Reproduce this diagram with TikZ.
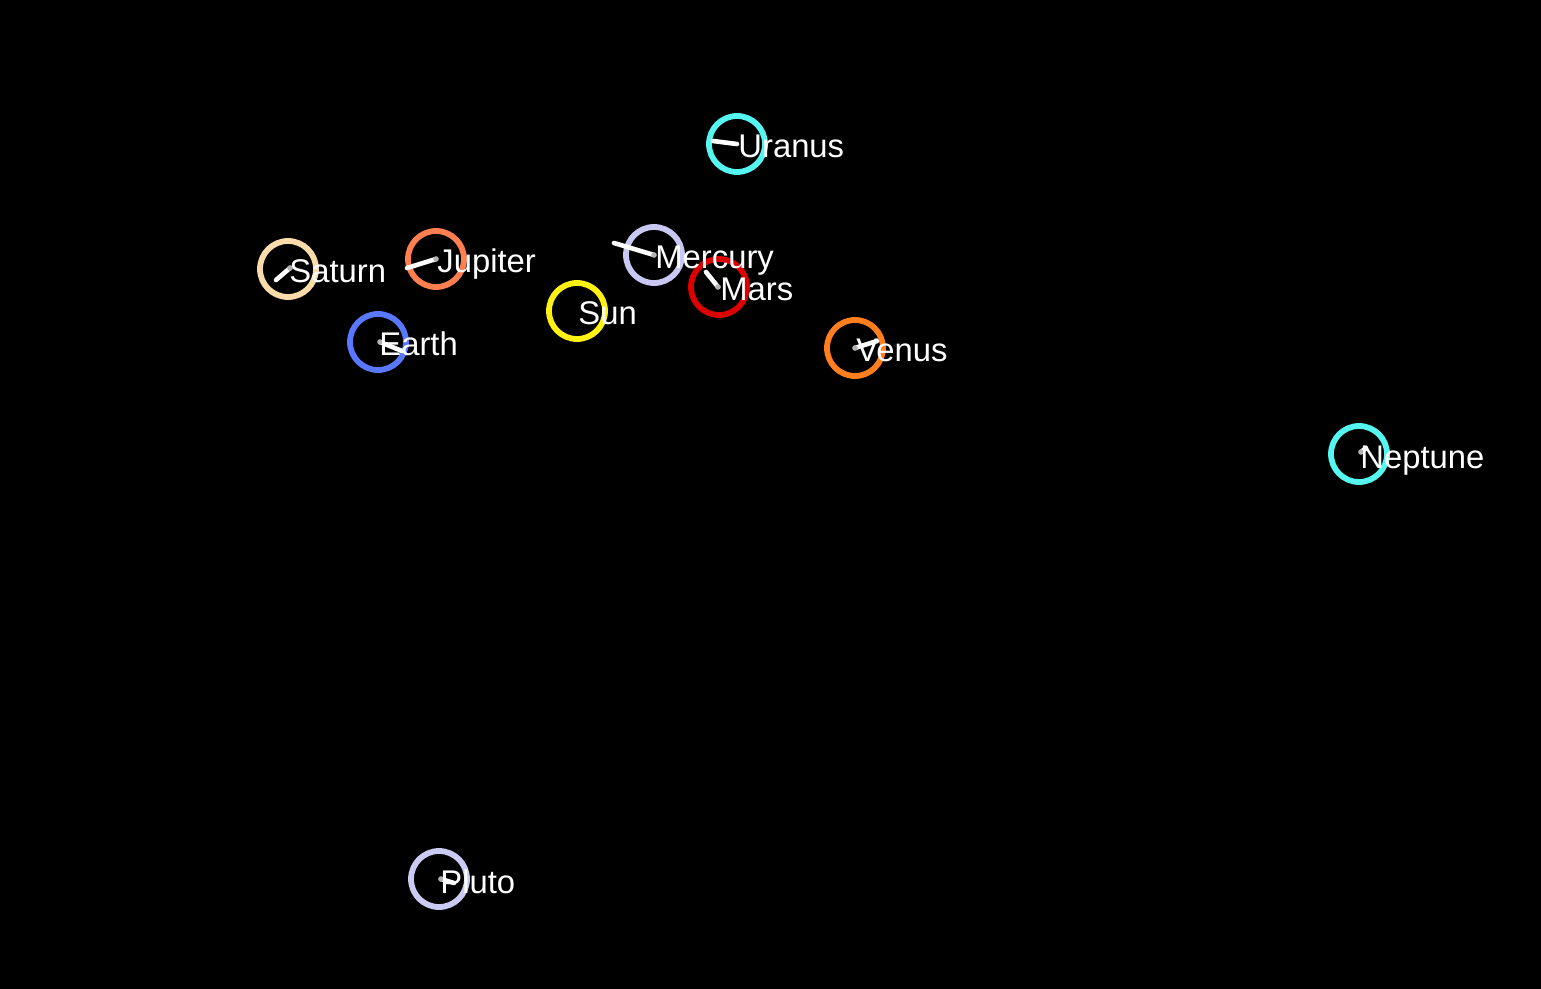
\documentclass[tikz,border=0pt]{standalone}
\usepackage{fontspec}
\setmainfont{Liberation Sans}
\usetikzlibrary{positioning}

\definecolor{sunc}{HTML}{FFF212}
\definecolor{mercuryc}{HTML}{C8C8F2}
\definecolor{venusc}{HTML}{FF7F1E}
\definecolor{earthc}{HTML}{5A78FF}
\definecolor{marsc}{HTML}{DC0000}
\definecolor{jupiterc}{HTML}{FF7F50}
\definecolor{saturnc}{HTML}{FADCAA}
\definecolor{uranusc}{HTML}{55F5F0}
\definecolor{neptunec}{HTML}{55F5F0}
\definecolor{plutoc}{HTML}{CACAF2}

\begin{document}
\begin{tikzpicture}[
  x=0.5pt, y=-0.5pt,
  planet/.style={circle, draw, line width=2.9pt, minimum size=28pt, inner sep=0pt},
  lbl/.style   ={anchor=base west, inner sep=0pt, text=white,
                 font=\fontsize{16.4}{18}\selectfont},
  vel/.style   ={white, line width=2.3pt, line cap=round},
  posdot/.style={circle, fill=gray!60, inner sep=0pt, minimum size=2.8pt}
]
\fill[black] (0,0) rectangle (1541,989);

% bodies
\node[planet, draw=sunc]     (sun)     at (577,311) {};
\node[planet, draw=mercuryc] (mercury) at (654,255) {};
\node[planet, draw=venusc]   (venus)   at (855,348) {};
\node[planet, draw=earthc]   (earth)   at (378,342) {};
\node[planet, draw=marsc]    (mars)    at (719,287) {};
\node[planet, draw=jupiterc] (jupiter) at (436,259) {};
\node[planet, draw=saturnc]  (saturn)  at (288,269) {};
\node[planet, draw=uranusc]  (uranus)  at (737,144) {};
\node[planet, draw=neptunec] (neptune) at (1359,454) {};
\node[planet, draw=plutoc]   (pluto)   at (439,879) {};

% velocity ends
\coordinate (mercury-v) at (614,243);
\coordinate (venus-v)   at (877,341);
\coordinate (earth-v)   at (402,351);
\coordinate (mars-v)    at (706,272);
\coordinate (jupiter-v) at (407,268);
\coordinate (saturn-v)  at (276,280);
\coordinate (uranus-v)  at (713,141);
\coordinate (neptune-v) at (1366,448);
\coordinate (pluto-v)   at (454,883);

\draw[vel] (mercury.center) -- (mercury-v);
\draw[vel] (venus.center)   -- (venus-v);
\draw[vel] ([xshift=1pt]earth.center) -- (earth-v);
\draw[vel] ([xshift=-0.5pt]mars.center) -- (mars-v);
\draw[vel] (jupiter.center) -- (jupiter-v);
\draw[vel] ([xshift=1pt,yshift=0.5pt]saturn.center) -- (saturn-v);
\draw[vel] (uranus.center)  -- (uranus-v);
\draw[vel] ([xshift=1pt,yshift=1pt]neptune.center) -- (neptune-v);
\draw[vel] ([xshift=1pt]pluto.center) -- (pluto-v);

\node[posdot] (mercury-p) at (mercury.center) {};
\node[posdot] (venus-p)   at (venus.center) {};
\node[posdot] (earth-p)   at ([xshift=1pt]earth.center) {};
\node[posdot] (mars-p)    at ([xshift=-0.5pt]mars.center) {};
\node[posdot] (jupiter-p) at (jupiter.center) {};
\node[posdot] (saturn-p)  at ([xshift=1pt,yshift=0.5pt]saturn.center) {};
\node[posdot] (neptune-p) at ([xshift=1pt,yshift=1pt]neptune.center) {};
\node[posdot] (pluto-p)   at ([xshift=1pt]pluto.center) {};

% names
\node[lbl] (sun-l)     at ([xshift=0.5pt,yshift=-7pt]sun.center)     {Sun};
\node[lbl] (mercury-l) at ([xshift=0.5pt,yshift=-7pt]mercury.center) {Mercury};
\node[lbl] (venus-l)   at ([xshift=0.5pt,yshift=-7pt]venus.center)   {Venus};
\node[lbl] (earth-l)   at ([xshift=0.5pt,yshift=-7pt]earth.center)   {Earth};
\node[lbl] (mars-l)    at ([xshift=0.5pt,yshift=-7pt]mars.center)    {Mars};
\node[lbl] (jupiter-l) at ([xshift=0.5pt,yshift=-7pt]jupiter.center) {Jupiter};
\node[lbl] (saturn-l)  at ([xshift=0.5pt,yshift=-7pt]saturn.center)  {Saturn};
\node[lbl] (uranus-l)  at ([xshift=0.5pt,yshift=-7pt]uranus.center)  {Uranus};
\node[lbl] (neptune-l) at ([xshift=0.5pt,yshift=-7pt]neptune.center) {Neptune};
\node[lbl] (pluto-l)   at ([xshift=0.5pt,yshift=-7pt]pluto.center)   {Pluto};
\end{tikzpicture}
\end{document}
